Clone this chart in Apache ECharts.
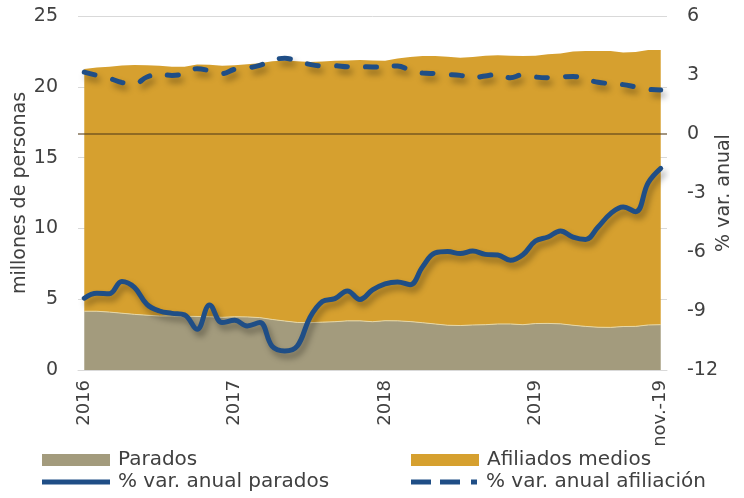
<!DOCTYPE html>
<html>
<head>
<meta charset="utf-8">
<script src="https://cdn.jsdelivr.net/npm/echarts@6/dist/echarts.min.js"></script>
<style>html,body{margin:0;padding:0;background:#fff}#c{width:744px;height:498px}</style>
</head>
<body>
<div id="c"></div>
<script>
// Months Jan 2016 .. Nov 2019
const months = [];
for (let y = 2016; y <= 2019; y++) {
  for (let m = 1; m <= 12; m++) {
    if (y === 2019 && m > 11) break;
    months.push(y + '-' + (m < 10 ? '0' + m : m));
  }
}
const tickLabels = {0: '2016', 12: '2017', 24: '2018', 36: '2019', 46: 'nov.-19'};

// millones de personas
const parados = [4.15,4.15,4.09,4.01,3.93,3.87,3.81,3.82,3.80,3.78,3.76,3.72,
  3.76,3.75,3.70,3.57,3.46,3.36,3.34,3.38,3.41,3.47,3.47,3.41,
  3.48,3.47,3.42,3.34,3.25,3.16,3.14,3.18,3.20,3.25,3.25,3.20,
  3.28,3.29,3.26,3.16,3.08,3.02,3.01,3.07,3.08,3.18,3.20];
const afiliados = [17.11,17.22,17.33,17.49,17.61,17.65,17.67,17.60,17.62,17.80,17.79,17.77,
  17.76,17.85,17.96,18.23,18.39,18.44,18.41,18.40,18.43,18.38,18.42,18.45,
  18.36,18.53,18.68,18.83,18.92,18.97,18.92,18.92,19.00,18.97,18.95,18.97,
  18.92,19.01,19.09,19.34,19.45,19.51,19.52,19.36,19.37,19.42,19.40];
// % var. anual
const varParados = [-8.35,-8.10,-8.12,-7.50,-7.80,-8.66,-9.00,-9.12,-9.20,-9.93,-8.69,-9.59,
  -9.47,-9.76,-9.59,-10.80,-11.03,-10.78,-9.34,-8.52,-8.37,-7.98,-8.41,-7.93,
  -7.62,-7.52,-7.66,-6.75,-6.05,-5.98,-6.08,-5.95,-6.12,-6.15,-6.42,-6.14,
  -5.44,-5.24,-4.93,-5.24,-5.36,-4.73,-4.05,-3.71,-3.95,-2.48,-1.75];
const varAfiliacion = [3.15,2.98,2.83,2.62,2.55,2.90,3.03,2.98,3.07,3.32,3.22,3.07,
  3.29,3.36,3.49,3.75,3.85,3.71,3.54,3.46,3.47,3.42,3.42,3.41,
  3.42,3.46,3.24,3.10,3.07,3.03,2.98,2.86,2.95,3.03,2.86,3.02,
  2.90,2.86,2.90,2.93,2.78,2.63,2.56,2.51,2.39,2.27,2.24];

const FONT = 'DejaVu Sans';
const TXT = '#404040';
const chart = echarts.init(document.getElementById('c'), null, {renderer: 'canvas'});
const shadow = {shadowColor: 'rgba(0,0,0,0.35)', shadowBlur: 6, shadowOffsetX: 3, shadowOffsetY: 5};

function leg(name, left, top, icon, h) {
  return {left: left, top: top, padding: 0, itemWidth: 68, itemHeight: h, itemGap: 0,
    textStyle: {fontFamily: FONT, fontSize: 20, color: TXT, padding: [0, 0, 0, 3]},
    data: [{name: name, icon: icon}]};
}
const solidIcon = 'path://M0,0H68V5H0Z';
const dashIcon = 'path://M0,0H20V5H0Z M29,0H49V5H29Z M60,0H66V5H60Z';

chart.setOption({
  animation: false,
  textStyle: {fontFamily: FONT, color: TXT},
  grid: {left: 78, right: 77, top: 16, bottom: 128, outerBoundsMode: 'none', containLabel: false},
  legend: [
    leg('Parados', 42, 450, 'rect', 12),
    leg('Afiliados medios', 411, 450, 'rect', 12),
    leg('% var. anual parados', 42, 472, solidIcon, 5),
    leg('% var. anual afiliación', 411, 472, dashIcon, 5)
  ],
  xAxis: {
    type: 'category', data: months, boundaryGap: true,
    axisLine: {lineStyle: {color: '#D9D9D9', width: 1}},
    axisTick: {show: false},
    axisLabel: {
      rotate: 90, fontSize: 18, color: TXT, fontFamily: FONT, margin: 10,
      interval: (i) => tickLabels[i] !== undefined,
      formatter: (v, i) => tickLabels[i] || ''
    }
  },
  yAxis: [
    {type: 'value', min: 0, max: 25, interval: 5,
     name: 'millones de personas', nameLocation: 'middle', nameRotate: 90, nameGap: 48,
     nameMoveOverlap: false,
     nameTextStyle: {fontSize: 19, color: TXT, fontFamily: FONT},
     axisLabel: {fontSize: 19, color: TXT, margin: 20},
     axisLine: {show: false}, axisTick: {show: false},
     splitLine: {lineStyle: {color: '#D9D9D9', width: 1}}},
    {type: 'value', min: -12, max: 6, interval: 3, position: 'right',
     name: '% var. anual', nameLocation: 'middle', nameRotate: 90, nameGap: 48,
     nameMoveOverlap: false,
     nameTextStyle: {fontSize: 19, color: TXT, fontFamily: FONT},
     axisLabel: {fontSize: 19, color: TXT, margin: 20},
     axisLine: {show: false}, axisTick: {show: false},
     splitLine: {show: false}}
  ],
  series: [
    {name: 'Parados', type: 'line', stack: 'total', data: parados, symbol: 'none',
     lineStyle: {width: 1, color: '#E6D7A6'}, itemStyle: {color: '#A39B7D'},
     areaStyle: {color: '#A39B7D', opacity: 1}, z: 1},
    {name: 'Afiliados medios', type: 'line', stack: 'total', data: afiliados, symbol: 'none',
     lineStyle: {width: 0}, itemStyle: {color: '#D6A02F'},
     areaStyle: {color: '#D6A02F', opacity: 1}, z: 1,
     markLine: {silent: true, symbol: 'none', label: {show: false},
       lineStyle: {color: 'rgba(85,62,25,0.55)', width: 2, type: 'solid'},
       data: [{yAxis: 16.6667}]}},
    {name: '% var. anual parados', type: 'line', yAxisIndex: 1, data: varParados,
     smooth: 0.4, symbol: 'none', z: 5,
     itemStyle: {color: '#1F4E86'},
     lineStyle: Object.assign({width: 5, color: '#1F4E86', cap: 'round'}, shadow)},
    {name: '% var. anual afiliación', type: 'line', yAxisIndex: 1, data: varAfiliacion,
     smooth: 0.4, symbol: 'none', z: 5,
     itemStyle: {color: '#1F4E86'},
     lineStyle: Object.assign({width: 5, color: '#1F4E86', type: [11, 18], cap: 'round'}, shadow)}
  ]
});
</script>
</body>
</html>
